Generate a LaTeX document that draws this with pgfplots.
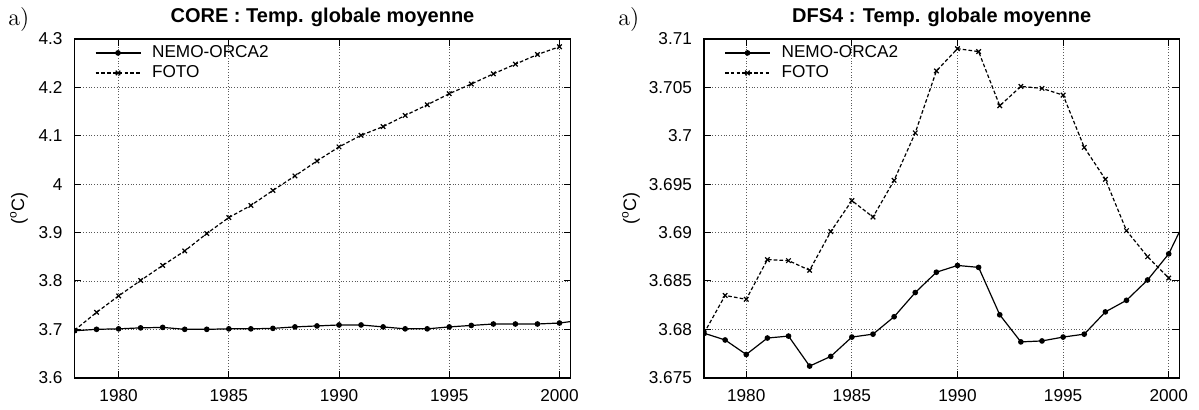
\documentclass[border=0pt]{standalone}
\usepackage{pgfplots}
\pgfplotsset{compat=1.18}
\usepackage{fontspec}
\setmainfont{Liberation Sans}
\newfontfamily\lmfont{Latin Modern Roman}

\pgfplotsset{
  every axis title shift=0pt,
  common/.style={
    scale only axis,
    height=169.35pt,
    xmin=1978, xmax=2000.5,
    xtick={1980,1985,1990,1995,2000},
    grid=major,
    major grid style={densely dotted, black!65, line width=0.4pt},
    tick align=inside,
    major tick length=3.5pt,
    tick style={black, line width=0.5pt},
    axis line style={line width=0.8pt},
    scaled ticks=false,
    /pgf/number format/assume math mode=true,
    /pgf/number format/1000 sep={},
    ticklabel style={font=\fontsize{8.6}{10}\selectfont},
    xticklabel style={yshift=-2.5pt},
    yticklabel style={xshift=-2.5pt},
    title style={at={(axis description cs:0.5,1)}, anchor=base, yshift=8.5pt,
                 font=\bfseries\fontsize{10}{12}\selectfont},
    ylabel style={anchor=center, font=\fontsize{9}{11}\selectfont},
    legend style={draw=none, fill=none, at={(axis description cs:0,1)},
                  anchor=north west, xshift=10pt, yshift=-1pt, inner sep=0pt,
                  font=\fontsize{8.6}{10}\selectfont, row sep=-1.5pt},
    legend cell align=left,
    legend image code/.code={\draw[mark repeat=2,mark phase=2,#1] plot coordinates {(0pt,0pt) (11.25pt,0pt) (22.5pt,0pt)}; \path (26pt,0pt);},
    clip marker paths=true,
    nemo/.style={black, solid, line width=0.6pt, mark=*, mark size=1.1pt},
    foto/.style={black, dash pattern=on 1.8pt off 1.1pt, line width=0.6pt, mark=x, mark size=1.6pt, mark options={solid}},
  }
}

\begin{document}
\begin{tikzpicture}
\useasboundingbox (0,0) rectangle (599.5pt,204.5pt);

% ---------------- CORE ----------------
\begin{axis}[common, at={(37.25pt,15.65pt)}, anchor=south west, width=248pt,
  ymin=3.6, ymax=4.3,
  ytick={3.6,3.7,3.8,3.9,4,4.1,4.2,4.3},
  title={CORE : Temp. globale moyenne},
  ylabel={(\textsuperscript{o}C)}, ylabel style={at={(axis description cs:-0.1119,0.5)}}]
\addplot[nemo] coordinates {
(1978,3.697) (1979,3.700) (1980,3.701) (1981,3.703) (1982,3.704)
(1983,3.700) (1984,3.700) (1985,3.701) (1986,3.701) (1987,3.702)
(1988,3.705) (1989,3.707) (1990,3.709) (1991,3.709) (1992,3.705)
(1993,3.701) (1994,3.701) (1995,3.705) (1996,3.708) (1997,3.711)
(1998,3.711) (1999,3.711) (2000,3.713) (2001,3.719)};
\addlegendentry{NEMO-ORCA2}
\addplot[foto] coordinates {
(1978,3.698) (1979,3.735) (1980,3.769) (1981,3.801) (1982,3.832)
(1983,3.862) (1984,3.898) (1985,3.931) (1986,3.956) (1987,3.987)
(1988,4.017) (1989,4.048) (1990,4.077) (1991,4.101) (1992,4.119)
(1993,4.142) (1994,4.164) (1995,4.187) (1996,4.207) (1997,4.228)
(1998,4.248) (1999,4.268) (2000,4.284)};
\addlegendentry{FOTO}
\end{axis}

% ---------------- DFS4 ----------------
\begin{axis}[common, at={(352pt,15.65pt)}, anchor=south west, width=237.65pt,
  ymin=3.675, ymax=3.71,
  ytick={3.675,3.68,3.685,3.69,3.695,3.7,3.705,3.71},
  yticklabel style={/pgf/number format/precision=3},
  title={DFS4 : Temp. globale moyenne},
  ylabel={(\textsuperscript{o}C)}, ylabel style={at={(axis description cs:-0.1536,0.5)}}]
\addplot[nemo] coordinates {
(1978,3.6796) (1979,3.6789) (1980,3.6774) (1981,3.6791) (1982,3.6793)
(1983,3.6762) (1984,3.6772) (1985,3.6792) (1986,3.6795) (1987,3.6813)
(1988,3.6838) (1989,3.6859) (1990,3.6866) (1991,3.6864) (1992,3.6815)
(1993,3.6787) (1994,3.6788) (1995,3.6792) (1996,3.6795) (1997,3.6818)
(1998,3.6830) (1999,3.6851) (2000,3.6878) (2001,3.6923)};
\addlegendentry{NEMO-ORCA2}
\addplot[foto] coordinates {
(1978,3.6796) (1979,3.6835) (1980,3.6831) (1981,3.6872) (1982,3.6871)
(1983,3.6861) (1984,3.6901) (1985,3.6933) (1986,3.6916) (1987,3.6954)
(1988,3.7003) (1989,3.7067) (1990,3.7090) (1991,3.7087) (1992,3.7031)
(1993,3.7051) (1994,3.7049) (1995,3.7042) (1996,3.6988) (1997,3.6955)
(1998,3.6902) (1999,3.6875) (2000,3.6853)};
\addlegendentry{FOTO}
\end{axis}

\node[font=\lmfont\fontsize{12}{14}\selectfont, anchor=base west, inner sep=0pt] at (4pt,192pt) {a)};
\node[font=\lmfont\fontsize{12}{14}\selectfont, anchor=base west, inner sep=0pt] at (309pt,192pt) {a)};
\end{tikzpicture}
\end{document}
